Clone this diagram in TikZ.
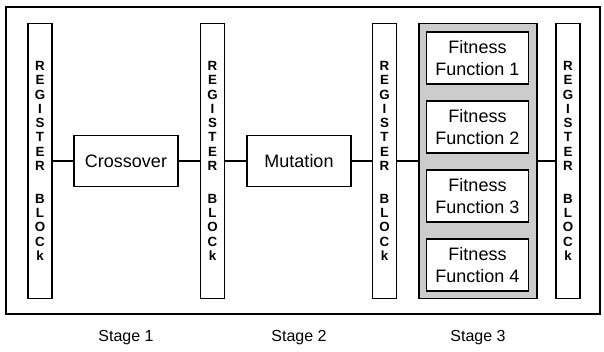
\documentclass[tikz,border=0pt]{standalone}
\usepackage{fontspec}
\setmainfont{Liberation Sans}
\begin{document}
\begin{tikzpicture}[
    x=0.75pt, y=-0.75pt,
    regblock/.style={rectangle, draw, line width=0.8pt, fill=white, minimum width=18pt, minimum height=206pt, inner sep=0pt, align=center, font=\fontsize{10}{10.7}\selectfont\bfseries},
    opbox/.style={rectangle, draw, line width=0.8pt, fill=white, minimum width=78pt, minimum height=38pt, font=\fontsize{13.5}{16}\selectfont},
    fitbox/.style={rectangle, draw, line width=0.8pt, fill=white, minimum width=77pt, minimum height=39pt, align=center, font=\fontsize{13.5}{16}\selectfont},
    container/.style={rectangle, draw, line width=1pt, fill=gray!40, minimum width=88.5pt, minimum height=206pt},
    stagelabel/.style={font=\fontsize{12}{14}\selectfont},
    wire/.style={line width=0.8pt}
]
    \useasboundingbox (0,0) rectangle (604,351);

% -------------------------
% Outer frame
% -------------------------
    \draw[line width=1.1pt] (6,7) rectangle (600,314);

% -------------------------
% Register blocks
% -------------------------
    \node[regblock] (reg1) at (40,161) {R\\E\\G\\I\\S\\T\\E\\R\\[14pt]B\\L\\O\\C\\k};
    \node[regblock] (reg2) at (212.5,161) {R\\E\\G\\I\\S\\T\\E\\R\\[14pt]B\\L\\O\\C\\k};
    \node[regblock] (reg3) at (384.5,161) {R\\E\\G\\I\\S\\T\\E\\R\\[14pt]B\\L\\O\\C\\k};
    \node[regblock] (reg4) at (568,161) {R\\E\\G\\I\\S\\T\\E\\R\\[14pt]B\\L\\O\\C\\k};

% -------------------------
% Operators
% -------------------------
    \node[opbox] (cross) at (126,161) {Crossover};
    \node[opbox] (mut) at (299,161) {Mutation};

    % Fitness container
    \node[container] (fitness) at (478,161) {};
    \node[fitbox] (ff1) at (477.5,58) {Fitness\\Function 1};
    \node[fitbox] (ff2) at (477.5,127) {Fitness\\Function 2};
    \node[fitbox] (ff3) at (477.5,196) {Fitness\\Function 3};
    \node[fitbox] (ff4) at (477.5,265) {Fitness\\Function 4};

% -------------------------
% Connections
% -------------------------
    \draw[wire] (reg1) -- (cross);
    \draw[wire] (cross) -- (reg2);
    \draw[wire] (reg2) -- (mut);
    \draw[wire] (mut) -- (reg3);
    \draw[wire] (reg3) -- (fitness);
    \draw[wire] (fitness) -- (reg4);

% -------------------------
% Stage labels
% -------------------------
    \node[stagelabel] (st1) at (126,338) {Stage 1};
    \node[stagelabel] (st2) at (299,338) {Stage 2};
    \node[stagelabel] (st3) at (478,338) {Stage 3};
\end{tikzpicture}
\end{document}
